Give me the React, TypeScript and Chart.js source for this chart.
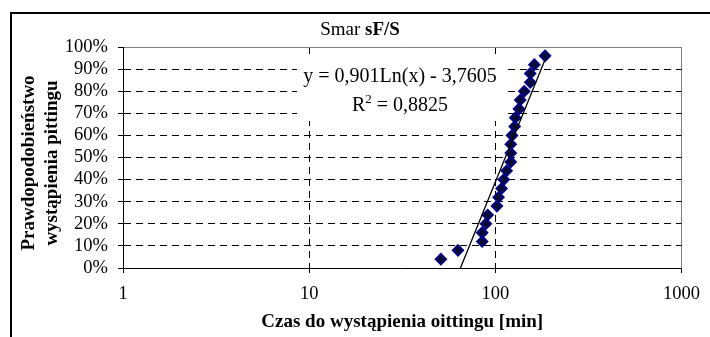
import React, { useEffect, useRef } from 'react';
import { Chart, registerables } from 'chart.js';

Chart.register(...registerables);

const SERIF = "'Liberation Serif', 'Times New Roman', Times, serif";

// ---- data ----
const chartTitleNormal = 'Smar ';
const chartTitleBold = 'sF/S';
const yTitleLines = ['Prawdopodobieństwo', 'wystąpienia pittingu'];
const xTitle = 'Czas do wystąpienia oittingu [min]';
const xTicks = [1, 10, 100, 1000];
const yTicks = [0, 0.1, 0.2, 0.3, 0.4, 0.5, 0.6, 0.7, 0.8, 0.9, 1];
const timeMin = [51, 63, 85, 85, 89, 91, 102, 104, 108, 111, 115, 121, 121, 121, 123, 127, 128, 134, 136, 143, 154, 154, 162, 185];
const probability = [0.04, 0.08, 0.12, 0.16, 0.2, 0.24, 0.28, 0.32, 0.36, 0.4, 0.44, 0.48, 0.52, 0.56, 0.6, 0.64, 0.68, 0.72, 0.76, 0.8, 0.84, 0.88, 0.92, 0.96];
const trendA = 0.901;
const trendB = -3.7605;
const equationLine = 'y = 0,901Ln(x) - 3,7605';
const r2Letter = 'R';
const r2Sup = '2';
const r2Rest = ' = 0,8825';

const GRAY = '#808080';
const DASH = [7, 5];

const textPlugin = {
  id: 'textPlugin',
  afterDatasetsDraw(chart: any) {
    const ctx = chart.ctx as CanvasRenderingContext2D;
    ctx.save();
    // label background
    ctx.fillStyle = '#fff';
    ctx.fillRect(297, 57, 206, 64);
    ctx.fillStyle = '#000';
    ctx.textBaseline = 'alphabetic';
    ctx.font = `20px ${SERIF}`;
    ctx.textAlign = 'center';
    ctx.fillText(equationLine, 400, 82);
    ctx.textAlign = 'left';
    const wR = ctx.measureText(r2Letter).width;
    const wRest = ctx.measureText(r2Rest).width;
    ctx.font = `13px ${SERIF}`;
    const wSup = ctx.measureText(r2Sup).width;
    const start = 400 - (wR + wSup + wRest) / 2;
    ctx.font = `20px ${SERIF}`;
    ctx.fillText(r2Letter, start, 111);
    ctx.font = `13px ${SERIF}`;
    ctx.fillText(r2Sup, start + wR, 103);
    ctx.font = `20px ${SERIF}`;
    ctx.fillText(r2Rest, start + wR + wSup, 111);
    ctx.restore();
  },
  afterDraw(chart: any) {
    const ctx = chart.ctx as CanvasRenderingContext2D;
    ctx.save();
    ctx.fillStyle = '#000';
    // chart title (mixed weight)
    ctx.textBaseline = 'alphabetic';
    ctx.textAlign = 'left';
    ctx.font = `19px ${SERIF}`;
    const w1 = ctx.measureText(chartTitleNormal).width;
    ctx.font = `bold 19px ${SERIF}`;
    const w2 = ctx.measureText(chartTitleBold).width;
    const sx = 360 - (w1 + w2) / 2;
    ctx.font = `19px ${SERIF}`;
    ctx.fillText(chartTitleNormal, sx, 35);
    ctx.font = `bold 19px ${SERIF}`;
    ctx.fillText(chartTitleBold, sx + w1, 35);
    // y axis title
    ctx.font = `bold 19px ${SERIF}`;
    ctx.textAlign = 'center';
    ctx.textBaseline = 'middle';
    const xs = [29, 52];
    yTitleLines.forEach((line, i) => {
      ctx.save();
      ctx.translate(xs[i], 163);
      ctx.rotate(-Math.PI / 2);
      ctx.fillText(line, 0, 0);
      ctx.restore();
    });
    ctx.restore();
  },
};

export default function App() {
  const ref = useRef<HTMLCanvasElement>(null);
  useEffect(() => {
    const canvas = ref.current!;
    const points = timeMin.map((x, i) => ({ x, y: probability[i] }));
    const xMin = Math.min(...timeMin);
    const xMax = Math.max(...timeMin);
    const trend = [xMin, xMax].map((x) => ({ x, y: trendA * Math.log(x) + trendB }));

    const chart = new Chart(canvas, {
      type: 'scatter',
      data: {
        datasets: [
          {
            data: trend,
            showLine: true,
            borderColor: '#000',
            borderWidth: 1.3,
            pointRadius: 0,
            pointHoverRadius: 0,
          },
          {
            data: points,
            pointStyle: 'rectRot',
            pointRadius: 5.5,
            pointHoverRadius: 5.5,
            backgroundColor: '#0a0a36',
            borderColor: '#000090',
            borderWidth: 1.5,
          },
        ],
      },
      options: {
        animation: false,
        responsive: false,
        devicePixelRatio: 1,
        events: [],
        layout: { padding: { left: 0, top: 47, right: 22, bottom: 0 } },
        plugins: {
          legend: { display: false },
          tooltip: { enabled: false },
          title: { display: false },
        },
        scales: {
          x: {
            type: 'logarithmic',
            position: 'bottom',
            min: 1,
            max: 1000,
            afterBuildTicks: (s: any) => {
              s.ticks = xTicks.map((v) => ({ value: v }));
            },
            afterFit: (s: any) => {
              s.height = 69;
            },
            ticks: {
              callback: (v: any) => String(v),
              color: '#000',
              font: { family: SERIF, size: 18.5 },
              padding: 10,
              maxRotation: 0,
              autoSkip: false,
            },
            grid: {
              color: (c: any) => {
                const v = c.tick ? c.tick.value : null;
                if (v === 1) return 'rgba(0,0,0,0)';
                if (v === 1000) return GRAY;
                return '#000';
              },
              lineWidth: 1,
              drawTicks: true,
              tickLength: 5,
              tickColor: '#000',
              tickWidth: 1,
              tickBorderDash: [],
            },
            border: {
              display: true,
              color: '#000',
              width: 1,
              dash: (c: any) => (c.tick && c.tick.value > 1 && c.tick.value < 1000 ? DASH : []),
            },
            title: {
              display: true,
              text: xTitle,
              color: '#000',
              font: { family: SERIF, size: 19, weight: 'bold' },
              padding: { top: 0, bottom: 4 },
            },
          },
          y: {
            type: 'linear',
            min: 0,
            max: 1,
            afterBuildTicks: (s: any) => {
              s.ticks = yTicks.map((v) => ({ value: v }));
            },
            afterFit: (s: any) => {
              s.width = 123;
            },
            ticks: {
              callback: (v: any) => Math.round(Number(v) * 100) + '%',
              color: '#000',
              font: { family: SERIF, size: 18.5 },
              padding: 10,
              autoSkip: false,
            },
            grid: {
              color: (c: any) => {
                const v = c.tick ? c.tick.value : null;
                if (v === 0) return 'rgba(0,0,0,0)';
                if (v === 1) return GRAY;
                return '#000';
              },
              lineWidth: 1,
              drawTicks: true,
              tickLength: 5,
              tickColor: '#000',
              tickWidth: 1,
              tickBorderDash: [],
            },
            border: {
              display: true,
              color: '#000',
              width: 1,
              dash: (c: any) => (c.tick && c.tick.value > 0 && c.tick.value < 1 ? DASH : []),
            },
            title: { display: false },
          },
        },
      } as any,
      plugins: [textPlugin],
    });
    return () => chart.destroy();
  }, []);

  return (
    <div style={{ position: 'fixed', left: 0, top: 0, width: 710, height: 337, background: '#fff', overflow: 'hidden' }}>
      <div
        style={{
          position: 'absolute',
          left: 10,
          top: 12,
          width: 720,
          height: 340,
          borderLeft: '2px solid #000',
          borderTop: '2px solid #000',
          boxSizing: 'border-box',
        }}
      />
      <canvas
        ref={ref}
        width={710}
        height={337}
        style={{ position: 'absolute', left: 0, top: 0, width: 710, height: 337 }}
      />
    </div>
  );
}
